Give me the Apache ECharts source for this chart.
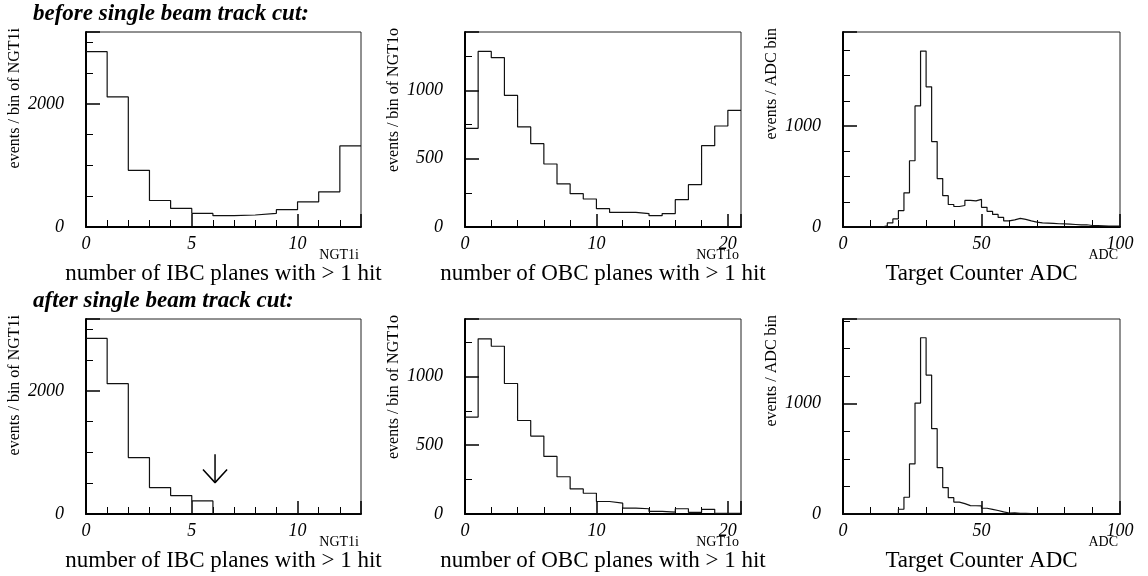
<!DOCTYPE html>
<html><head><meta charset="utf-8">
<script src="https://cdn.jsdelivr.net/npm/echarts@6/dist/echarts.min.js"></script>
<style>html,body{margin:0;padding:0;background:#fff}#c{width:1148px;height:576px}</style>
</head><body><div id="c"></div>
<script>
// ---------------- data ----------------
// NGT1i: number of IBC planes with > 1 hit, bins of width 1 from 0 to 13
const ibcBefore = [2850, 2115, 922, 431, 302, 220, 184, 195, 222, 281, 410, 572, 1318];
const ibcAfter  = [2855, 2118, 918, 429, 299, 212, 0, 0, 0, 0, 0, 0, 0];
// NGT1o: number of OBC planes with > 1 hit, bins of width 1 from 0 to 21
const obcBefore = [722, 1285, 1239, 963, 732, 610, 461, 315, 244, 205, 134, 107, 107, 98, 83, 98, 200, 310, 595, 739, 854];
const obcAfter  = [705, 1274, 1220, 949, 680, 567, 419, 271, 182, 151, 91, 79, 43, 38, 19, 14, 38, 12, 34, 5, 5];
// Target Counter ADC, bins of width 2 from 0 to 100
const adcBefore = [0, 0, 0, 0, 0, 0, 0, 12, 40, 80, 163, 338, 656, 1199, 1742, 1388, 846, 480, 310, 223,
                   203, 213, 263, 258, 273, 195, 155, 125, 95, 60, 70, 85, 75, 60, 48, 40, 38, 35, 32, 30,
                   28, 25, 22, 22, 15, 14, 12, 10, 10, 8];
const adcAfter  = [0, 0, 0, 0, 0, 0, 0, 0, 0, 6, 43, 152, 454, 1006, 1598, 1260, 774, 420, 240, 148,
                   108, 94, 76, 75, 74, 52, 42, 32, 20, 9, 10, 6, 5, 4, 3, 2, 2, 2, 1, 1,
                   1, 1, 1, 1, 0, 0, 0, 0, 0, 0];
// cut position (arrow) on NGT1i, after-cut panel
const cutArrow = { x: 6.1, top: 970, tip: 510, headHalfWidth: 0.57, headBase: 723 };

const headings = ['before single beam track cut:', 'after single beam track cut:'];
const xTitles = ['number of IBC planes with > 1 hit', 'number of OBC planes with > 1 hit', 'Target Counter ADC'];
const xUnits = ['NGT1i', 'NGT1o', 'ADC'];
const yTitles = ['events / bin of NGT1i', 'events / bin of NGT1o', 'events / ADC bin'];

// ---------------- layout ----------------
const cols = [{left: 86, width: 275}, {left: 465, width: 276}, {left: 843, width: 277}];
const rows = [{top: 32, height: 195}, {top: 319, height: 195}];
const axisCfg = [
  {xmax: 13, xint: 5, xsplit: 5, ymax: [3170, 3170], yint: 2000, ysplit: 4, bw: 1, showMax: false},
  {xmax: 21, xint: 10, xsplit: 5, ymax: [1427, 1418], yint: 500, ysplit: 2, bw: 1, showMax: false},
  {xmax: 100, xint: 50, xsplit: 5, ymax: [1931, 1768], yint: 1000, ysplit: 4, bw: 2, showMax: true}
];
const hists = [[ibcBefore, obcBefore, adcBefore], [ibcAfter, obcAfter, adcAfter]];

const serif = 'Liberation Serif, Times New Roman, serif';
const grid = [], xAxis = [], yAxis = [], series = [], graphic = [];
const plain = v => String(v);

function stepData(vals, bw) {
  const d = vals.map((v, i) => [i * bw, v]);
  d.push([vals.length * bw, vals[vals.length - 1]]);
  return d;
}

rows.forEach((r, ri) => {
  cols.forEach((c, ci) => {
    const gi = ri * 3 + ci;
    const a = axisCfg[ci];
    grid.push({left: c.left, top: r.top, width: c.width, height: r.height,
      show: true, borderColor: '#222', borderWidth: 1, backgroundColor: 'transparent', containLabel: false});
    xAxis.push({type: 'value', gridIndex: gi, min: 0, max: a.xmax, interval: a.xint,
      axisLine: {show: true, onZero: false, lineStyle: {color: '#000', width: 2}},
      axisTick: {show: true, inside: true, length: 13, lineStyle: {color: '#000', width: 1.5}},
      minorTick: {show: true, splitNumber: a.xsplit, length: 7, lineStyle: {color: '#000', width: 1}},
      splitLine: {show: false}, minorSplitLine: {show: false},
      axisLabel: {show: true, margin: 8, color: '#000', fontFamily: serif, fontStyle: 'italic', fontSize: 18,
        formatter: plain, showMaxLabel: a.showMax, showMinLabel: true}
    });
    yAxis.push({type: 'value', gridIndex: gi, min: 0, max: a.ymax[ri], interval: a.yint,
      axisLine: {show: true, onZero: false, lineStyle: {color: '#000', width: 2}},
      axisTick: {show: true, inside: true, length: 14, lineStyle: {color: '#000', width: 1.5}},
      minorTick: {show: true, splitNumber: a.ysplit, length: 7, lineStyle: {color: '#000', width: 1}},
      splitLine: {show: false}, minorSplitLine: {show: false},
      axisLabel: {show: true, margin: 22, color: '#000', fontFamily: serif, fontStyle: 'italic', fontSize: 18,
        formatter: plain, showMaxLabel: false, showMinLabel: true}
    });
    series.push({type: 'line', xAxisIndex: gi, yAxisIndex: gi, step: 'end', showSymbol: false, symbol: 'none',
      data: stepData(hists[ri][ci], a.bw), lineStyle: {color: '#111', width: 1.2}, silent: true, z: 3});

    // texts
    const cx = c.left + c.width / 2;
    const bottom = r.top + r.height;
    graphic.push({type: 'text', x: cx, y: bottom + 47,
      style: {text: xTitles[ci], font: '23px ' + serif, fill: '#000', align: 'center', verticalAlign: 'middle'}});
    graphic.push({type: 'text', x: c.left + c.width - 2, y: bottom + 28,
      style: {text: xUnits[ci], font: '14px ' + serif, fill: '#000', align: 'right', verticalAlign: 'middle'}});
    graphic.push({type: 'text', x: c.left - 71, y: r.top - 4, rotation: Math.PI / 2,
      style: {text: yTitles[ci], font: '16px ' + serif, fill: '#000', align: 'right', verticalAlign: 'middle'}});
  });
  graphic.push({type: 'text', x: 33, y: rows[ri].top - 18,
    style: {text: headings[ri], font: 'italic bold 23px ' + serif, fill: '#000', align: 'left', verticalAlign: 'middle'}});
});

// cut arrow on the after-cut NGT1i panel (drawn in data coordinates)
series.push({type: 'line', xAxisIndex: 3, yAxisIndex: 3, showSymbol: false, symbol: 'none', silent: true, z: 4,
  data: [[cutArrow.x, cutArrow.top], [cutArrow.x, cutArrow.tip]], lineStyle: {color: '#000', width: 1.5}});
series.push({type: 'line', xAxisIndex: 3, yAxisIndex: 3, showSymbol: false, symbol: 'none', silent: true, z: 4,
  data: [[cutArrow.x - cutArrow.headHalfWidth, cutArrow.headBase], [cutArrow.x, cutArrow.tip],
         [cutArrow.x + cutArrow.headHalfWidth, cutArrow.headBase]], lineStyle: {color: '#000', width: 1.5}});

const chart = echarts.init(document.getElementById('c'), null, {renderer: 'canvas'});
chart.setOption({animation: false, backgroundColor: '#fff', grid, xAxis, yAxis, series, graphic});
</script>
</body></html>
